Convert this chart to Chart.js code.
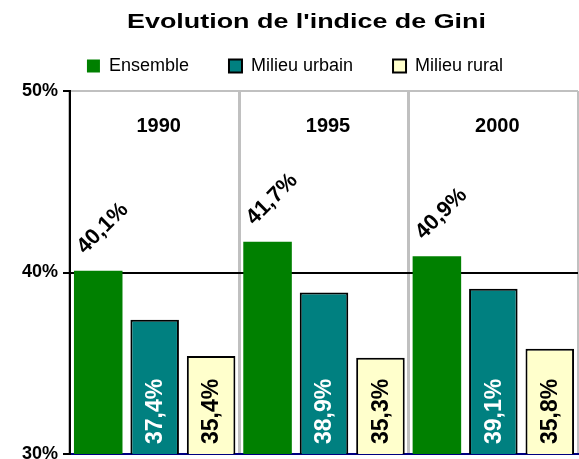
<!DOCTYPE html>
<html>
<head>
<meta charset="utf-8">
<script src="https://cdn.jsdelivr.net/npm/chart.js@4"></script>
<style>
  html, body { margin: 0; padding: 0; background: #fff; }
  #wrap { width: 579px; height: 459px; }
</style>
</head>
<body>
<div id="wrap"><canvas id="giniChart"></canvas></div>
<script>
const chartTitle = "Evolution de l'indice de Gini";
const years = ['1990', '1995', '2000'];
const seriesNames = ['Ensemble', 'Milieu urbain', 'Milieu rural'];
const ensemble = [40.1, 41.7, 40.9];
const urbain = [37.4, 38.9, 39.1];
const rural = [35.4, 35.3, 35.8];
const yMin = 30;
const yMax = 50;
const yStep = 10;

const fontFamily = '"Liberation Sans", Arial, sans-serif';

const formatPct = function(v) {
    return v.toFixed(1).replace('.', ',') + '%';
};

// title is drawn a bit wider than the font, like the original
const titlePlugin = {
    id: 'wideTitle',
    afterDraw(chart) {
        const ctx = chart.ctx;
        ctx.save();
        ctx.font = 'bold 21px ' + fontFamily;
        ctx.fillStyle = '#000';
        ctx.textAlign = 'center';
        ctx.textBaseline = 'alphabetic';
        ctx.translate(chart.width / 2 + 17, 28);
        ctx.scale(1.28, 1);
        ctx.fillText(chartTitle, 0, 0);
        ctx.restore();
    }
};

// extra room between legend and plot, legend nudged right
const legendSpacing = {
    id: 'legendSpacing',
    beforeInit(chart) {
        const fit = chart.legend.fit;
        chart.legend.fit = function() {
            fit.bind(chart.legend)();
            this.height += 6;
            this.lineWidths[0] -= 12;
        };
    }
};

const valueLabels = {
    id: 'valueLabels',
    afterDatasetsDraw(chart) {
        const ctx = chart.ctx;
        const xScale = chart.scales.x;
        const area = chart.chartArea;
        ctx.save();

        ctx.font = 'bold 20px ' + fontFamily;
        ctx.fillStyle = '#000';
        ctx.textAlign = 'center';
        ctx.textBaseline = 'middle';
        years.forEach(function(y, i) {
            ctx.fillText(y, xScale.getPixelForValue(i) + 4, area.top + 35);
        });

        chart.data.datasets.forEach(function(ds, d) {
            chart.getDatasetMeta(d).data.forEach(function(bar, i) {
                const txt = formatPct(ds.data[i]);
                ctx.save();
                if (d === 0) {
                    ctx.font = 'bold 22px ' + fontFamily;
                    ctx.translate(bar.x - bar.width / 2 + 11, bar.y - 16);
                    ctx.rotate(-Math.PI / 4);
                    ctx.textAlign = 'left';
                    ctx.textBaseline = 'alphabetic';
                    ctx.fillStyle = '#000';
                } else {
                    ctx.font = 'bold 23px ' + fontFamily;
                    ctx.translate(bar.x + 1, area.bottom - 10);
                    ctx.rotate(-Math.PI / 2);
                    ctx.textAlign = 'left';
                    ctx.textBaseline = 'middle';
                    ctx.fillStyle = d === 1 ? '#fff' : '#000';
                }
                ctx.fillText(txt, 0, 0);
                ctx.restore();
            });
        });
        ctx.restore();
    }
};

const ctx = document.getElementById('giniChart').getContext('2d');
new Chart(ctx, {
    type: 'bar',
    data: {
        labels: years,
        datasets: [{
            label: seriesNames[0],
            data: ensemble,
            backgroundColor: '#008000',
            borderWidth: 0
        }, {
            label: seriesNames[1],
            data: urbain,
            backgroundColor: '#008080',
            borderColor: '#000',
            borderWidth: 2
        }, {
            label: seriesNames[2],
            data: rural,
            backgroundColor: '#FFFFCC',
            borderColor: '#000',
            borderWidth: 2
        }]
    },
    options: {
        responsive: true,
        maintainAspectRatio: false,
        animation: false,
        categoryPercentage: 1.0,
        barPercentage: 0.86,
        layout: {
            padding: { top: 17, right: 1, bottom: 5, left: 0 }
        },
        plugins: {
            title: { display: false },
            tooltip: { enabled: false },
            legend: {
                position: 'top',
                labels: {
                    boxWidth: 13,
                    boxHeight: 13,
                    padding: 40,
                    color: '#000',
                    font: { family: fontFamily, size: 18 }
                }
            }
        },
        scales: {
            x: {
                ticks: { display: false },
                grid: {
                    offset: true,
                    drawTicks: false,
                    color: '#c0c0c0',
                    lineWidth: 3
                },
                border: { color: '#000080', width: 2 }
            },
            y: {
                min: yMin,
                max: yMax,
                ticks: {
                    stepSize: yStep,
                    padding: 5,
                    color: '#000',
                    font: { family: fontFamily, size: 18, weight: 'bold' },
                    callback: function(value) {
                        return value + '%';
                    }
                },
                grid: {
                    lineWidth: 2,
                    tickLength: 7,
                    tickColor: '#000',
                    color: function(c) {
                        if (c.tick.value === yMax) return '#c0c0c0';
                        if (c.tick.value === yMin) return '#000080';
                        return '#000';
                    }
                },
                border: { color: '#000', width: 2 },
                afterFit: function(scale) {
                    scale.width = 70;
                    scale.paddingTop = 0;
                    scale.paddingBottom = 0;
                }
            }
        }
    },
    plugins: [legendSpacing, valueLabels, titlePlugin]
});
</script>
</body>
</html>
